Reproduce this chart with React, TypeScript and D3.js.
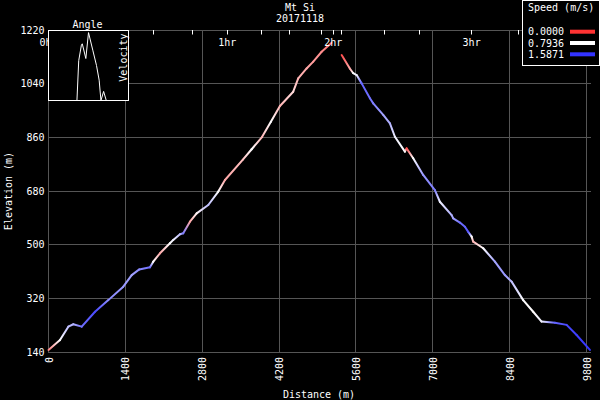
import React from "react";
import * as d3 from "d3";

// ---- data ----
const ascentDistance = [0, 209, 361, 452, 605, 847, 1089, 1362, 1515, 1653, 1848, 1908, 2030, 2212, 2272, 2394, 2454, 2576, 2698, 2910, 3092, 3214, 3540, 3700, 3888, 4050, 4215, 4457, 4548, 4701, 4822, 4974, 5157];
const ascentElevation = [147, 180, 225, 233, 225, 275, 314, 359, 398, 417, 424, 443, 471, 505, 516, 535, 538, 577, 605, 633, 678, 717, 785, 820, 861, 912, 965, 1013, 1058, 1091, 1114, 1147, 1177];
const ascentSpeed = [0.3, 0.8, 1.05, 1.1, 1.35, 1.5, 1.25, 1.2, 1.15, 1.25, 1.35, 0.8, 0.45, 0.8, 0.85, 1.05, 1.3, 0.45, 0.75, 1.05, 0.8, 0.45, 0.55, 0.8, 0.5, 0.8, 0.5, 0.65, 0.5, 0.45, 0.4, 0.35, 0.2];

const descentDistance = [5339, 5488, 5550, 5612, 5703, 5854, 5914, 6096, 6218, 6309, 6491, 6522, 6642, 6824, 7037, 7128, 7342, 7371, 7493, 7584, 7644, 7706, 7735, 7917, 8130, 8312, 8434, 8645, 8827, 8980, 9222, 9436, 9618, 9860];
const descentElevation = [1136, 1091, 1075, 1069, 1041, 991, 974, 935, 907, 862, 812, 823, 790, 734, 683, 644, 599, 588, 574, 560, 543, 527, 510, 488, 443, 398, 376, 314, 275, 242, 238, 231, 197, 147];
const descentSpeed = [0.1, 0.45, 0.8, 0.85, 1.4, 1.35, 1.3, 1.15, 1.1, 0.85, 0.8, 0.1, 0.8, 1.2, 1.3, 0.85, 1.1, 1.15, 1.35, 1.4, 1.45, 0.8, 0.5, 0.8, 1.15, 1.2, 1.05, 0.8, 0.78, 0.85, 1.4, 1.5, 1.55, 1.58];

const xTicks = [0, 1400, 2800, 4200, 5600, 7000, 8400, 9800];
const yTicks = [140, 320, 500, 680, 860, 1040, 1220];

const timeTickDistance = [1000, 1908, 2626, 3256, 3882, 4397, 4975, 5186, 5339, 6127, 6752, 7706, 8554];
const timeLabels = ["0hr", "1hr", "2hr", "3hr"];
const timeLabelDistance = [0, 3256, 5186, 7706];

const legendValues = ["0.0000", "0.7936", "1.5871"];
const legendSpeeds = [0, 0.7936, 1.5871];

const insetAngle = [0, 32, 34, 37, 38, 42, 45, 50, 54, 57, 59, 62, 65, 90];
const insetCount = [0, 0, 57, 79, 81, 60, 97, 71, 50, 29, 0, 13, 0, 0];

const FONT = "'DejaVu Sans Mono', monospace";
const GRID = "#555555";

export default function App() {
  const x = d3.scaleLinear().domain([0, 9880]).range([48.5, 591]);
  const y = d3.scaleLinear().domain([140, 1220]).range([352, 30]);
  const color = d3
    .scaleLinear<string>()
    .domain([0, 0.7936, 1.5871])
    .range(["#ff3333", "#ffffff", "#3333ff"]);

  const px = (v: number) => Math.floor(x(v)) + 0.5;
  const py = (v: number) => Math.floor(y(v)) + 0.5;

  const segs: { x1: number; y1: number; x2: number; y2: number; c1: string; c2: string }[] = [];
  const addPath = (ds: number[], es: number[], ss: number[]) => {
    for (let i = 0; i < ds.length - 1; i++) {
      segs.push({
        x1: x(ds[i]),
        y1: y(es[i]),
        x2: x(ds[i + 1]),
        y2: y(es[i + 1]),
        c1: color(ss[i]),
        c2: color(ss[i + 1]),
      });
    }
  };
  addPath(ascentDistance, ascentElevation, ascentSpeed);
  addPath(descentDistance, descentElevation, descentSpeed);

  // inset
  const ix = d3.scaleLinear().domain([0, 90]).range([48.5, 128.5]);
  const iy = d3.scaleLinear().domain([0, 100]).range([100.5, 30.5]);
  const insetLine = d3
    .line<number>()
    .x((_, i) => ix(insetAngle[i]))
    .y((d) => iy(d))(insetCount) as string;

  return (
    <svg
      width={600}
      height={400}
      style={{ position: "absolute", left: 0, top: 0, display: "block" }}
      fontFamily={FONT}
      fontSize={10}
    >
      <rect x={0} y={0} width={600} height={400} fill="#000" />
      <defs>
        {segs.map((s, i) => (
          <linearGradient key={i} id={`sg${i}`} gradientUnits="userSpaceOnUse" x1={s.x1} y1={s.y1} x2={s.x2} y2={s.y2}>
            <stop offset="0" stopColor={s.c1} />
            <stop offset="1" stopColor={s.c2} />
          </linearGradient>
        ))}
        <clipPath id="insetClip">
          <rect x={48.5} y={30.5} width={80} height={70} />
        </clipPath>
      </defs>

      {/* grid */}
      {xTicks.map((t) => (
        <line key={"gx" + t} x1={px(t)} x2={px(t)} y1={30} y2={352.5} stroke={GRID} />
      ))}
      {yTicks.map((t) => (
        <line key={"gy" + t} x1={48} x2={591} y1={py(t)} y2={py(t)} stroke={GRID} />
      ))}

      {/* profile */}
      {segs.map((s, i) => (
        <line
          key={"s" + i}
          x1={s.x1}
          y1={s.y1}
          x2={s.x2}
          y2={s.y2}
          stroke={`url(#sg${i})`}
          strokeWidth={2}
          strokeLinecap="round"
        />
      ))}

      {/* time ticks */}
      {timeTickDistance.map((t) => (
        <line key={"tt" + t} x1={px(t)} x2={px(t)} y1={30} y2={34.5} stroke="#fff" />
      ))}
      {timeLabels.map((l, i) => (
        <text key={l} x={x(timeLabelDistance[i])} y={45.5} fill="#fff" textAnchor="middle">
          {l}
        </text>
      ))}

      {/* axis tick labels */}
      {yTicks.map((t) => (
        <text key={"yl" + t} x={44.5} y={y(t)} dy="0.36em" fill="#fff" textAnchor="end">
          {t}
        </text>
      ))}
      {xTicks.map((t) => (
        <text
          key={"xl" + t}
          transform={`translate(${x(t) + 4},357) rotate(-90)`}
          fill="#fff"
          textAnchor="end"
        >
          {t}
        </text>
      ))}

      {/* axis titles */}
      <text x={319} y={398} fill="#fff" textAnchor="middle">
        Distance (m)
      </text>
      <text transform="translate(11.5,191) rotate(-90)" fill="#fff" textAnchor="middle">
        Elevation (m)
      </text>

      {/* title */}
      <text x={300} y={10.5} fill="#fff" textAnchor="middle">
        Mt Si
      </text>
      <text x={300} y={22} fill="#fff" textAnchor="middle">
        20171118
      </text>

      {/* inset */}
      <rect x={48.5} y={30.5} width={80} height={70} fill="#000" />
      <path d={insetLine} fill="none" stroke="#fff" strokeWidth={1} clipPath="url(#insetClip)" />
      <rect x={48.5} y={30.5} width={80} height={70} fill="none" stroke="#fff" />
      <text x={87.5} y={27.5} fill="#fff" textAnchor="middle">
        Angle
      </text>
      <text transform="translate(127,33.5) rotate(-90)" fill="#fff" textAnchor="end">
        Velocity
      </text>

      {/* legend */}
      <rect x={522.5} y={0.5} width={77} height={65} fill="#000" stroke="#fff" />
      <text x={528} y={10.5} fill="#fff">
        Speed (m/s)
      </text>
      {legendValues.map((v, i) => (
        <g key={v}>
          <text x={528} y={35.3 + i * 11.3} fill="#fff">
            {v}
          </text>
          <rect x={570} y={29.7 + i * 11.3} width={25} height={4} fill={color(legendSpeeds[i])} />
        </g>
      ))}
    </svg>
  );
}
